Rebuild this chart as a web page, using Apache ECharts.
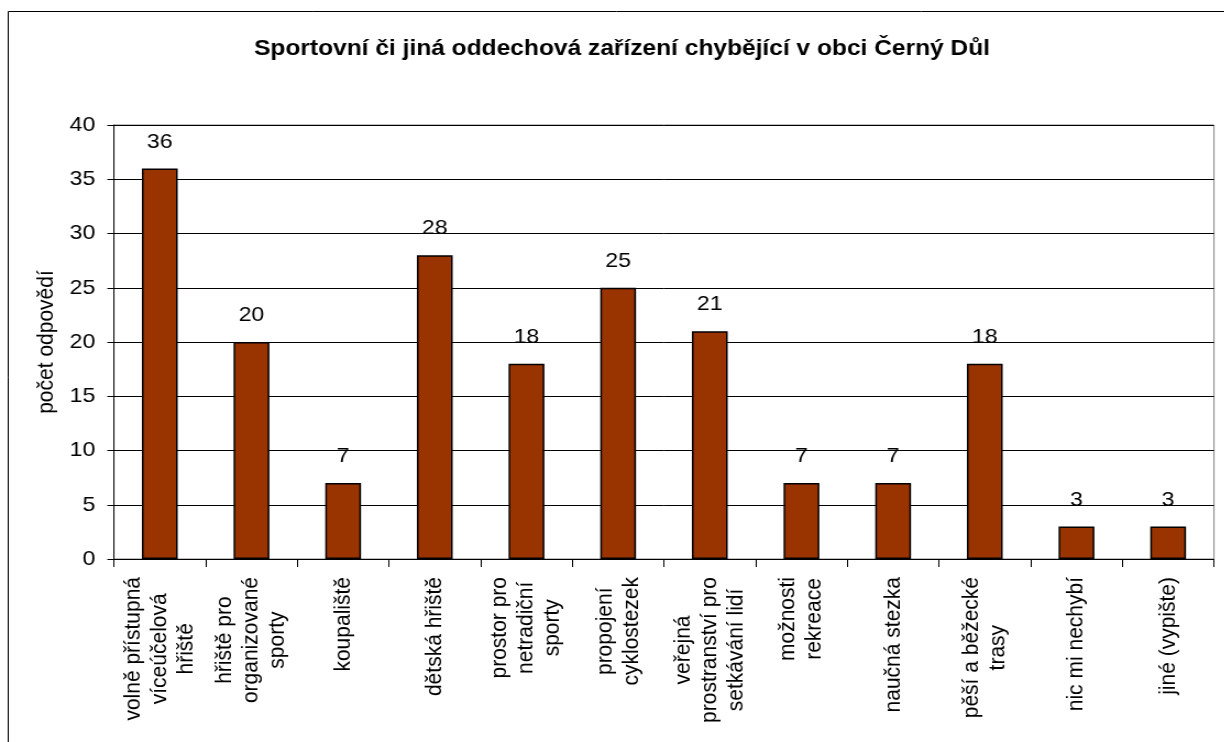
<!DOCTYPE html>
<html>
<head>
<meta charset="utf-8">
<script src="https://cdn.jsdelivr.net/npm/echarts@6/dist/echarts.min.js"></script>
<style>
  html, body { margin: 0; padding: 0; background: #fff; overflow: hidden; }
  /* the reference is stretched a little horizontally, so the chart is drawn narrower and scaled */
  #main { width: 1113px; height: 742px; transform: scaleX(1.1); transform-origin: 0 0; }
</style>
</head>
<body>
<div id="main"></div>
<script>
const categories = [
  'volně přístupná\nvíceúčelová\nhřiště',
  'hřiště pro\norganizované\nsporty',
  'koupaliště',
  'dětská hřiště',
  'prostor pro\nnetradiční\nsporty',
  'propojení\ncyklostezek',
  'veřejná\nprostranství pro\nsetkávání lidí',
  'možnosti\nrekreace',
  'naučná stezka',
  'pěší a běžecké\ntrasy',
  'nic mi nechybí',
  'jiné (vypište)'
]
const counts = [36, 20, 7, 28, 18, 25, 21, 7, 7, 18, 3, 3]
const yTicks = { min: 0, max: 40, step: 5 }

const titleText = 'Sportovní či jiná oddechová zařízení chybějící v obci Černý Důl'
const yName = 'počet odpovědí'

const font = '"Liberation Sans", Arial, sans-serif'

const chart = echarts.init(document.getElementById('main'))

chart.setOption({
  animation: false,
  backgroundColor: '#fff',
  title: {
    text: titleText,
    left: 565.5,
    textAlign: 'center',
    top: 38,
    padding: 0,
    textStyle: { fontFamily: font, fontSize: 22.3, fontWeight: 'bold', color: '#000' }
  },
  graphic: [
    {
      type: 'rect',
      shape: { x: 7.5, y: 11.5, width: 3000, height: 3000 },
      style: { fill: 'none', stroke: '#000', lineWidth: 1 },
      silent: true
    }
  ],
  grid: {
    left: 103.6,
    right: 9.4,
    top: 125,
    bottom: 183,
    show: true,
    borderColor: '#808080',
    borderWidth: 1,
    outerBoundsMode: 'none'
  },
  xAxis: {
    type: 'category',
    data: categories,
    axisLine: { lineStyle: { color: '#000', width: 1 } },
    axisTick: { show: true, length: 8, lineStyle: { color: '#000' } },
    axisLabel: {
      interval: 0,
      rotate: 90,
      margin: 18,
      align: 'right',
      verticalAlign: 'middle',
      color: '#000',
      fontFamily: font,
      fontSize: 21,
      lineHeight: 24,
      formatter: (v) => v.split('\n').map(l => '{c|' + l + '}').join('\n'),
      rich: {
        c: { align: 'center', fontFamily: font, fontSize: 21, lineHeight: 24, color: '#000' }
      }
    }
  },
  yAxis: {
    type: 'value',
    min: yTicks.min,
    max: yTicks.max,
    interval: yTicks.step,
    name: yName,
    nameLocation: 'middle',
    nameRotate: 90,
    nameGap: 49,
    nameTextStyle: { fontFamily: font, fontSize: 21, color: '#000' },
    axisLine: { show: true, lineStyle: { color: '#000', width: 1 } },
    axisTick: { show: true, length: 6, lineStyle: { color: '#000' } },
    axisLabel: { margin: 17, color: '#000', fontFamily: font, fontSize: 21 },
    splitLine: { show: true, lineStyle: { color: '#000', width: 1 } }
  },
  series: [
    {
      type: 'bar',
      data: counts,
      barWidth: '39%',
      itemStyle: { color: '#993300', borderColor: '#000', borderWidth: 1.5 },
      label: {
        show: true,
        position: 'top',
        distance: 16,
        color: '#000',
        fontFamily: font,
        fontSize: 21
      }
    }
  ]
})
</script>
</body>
</html>
